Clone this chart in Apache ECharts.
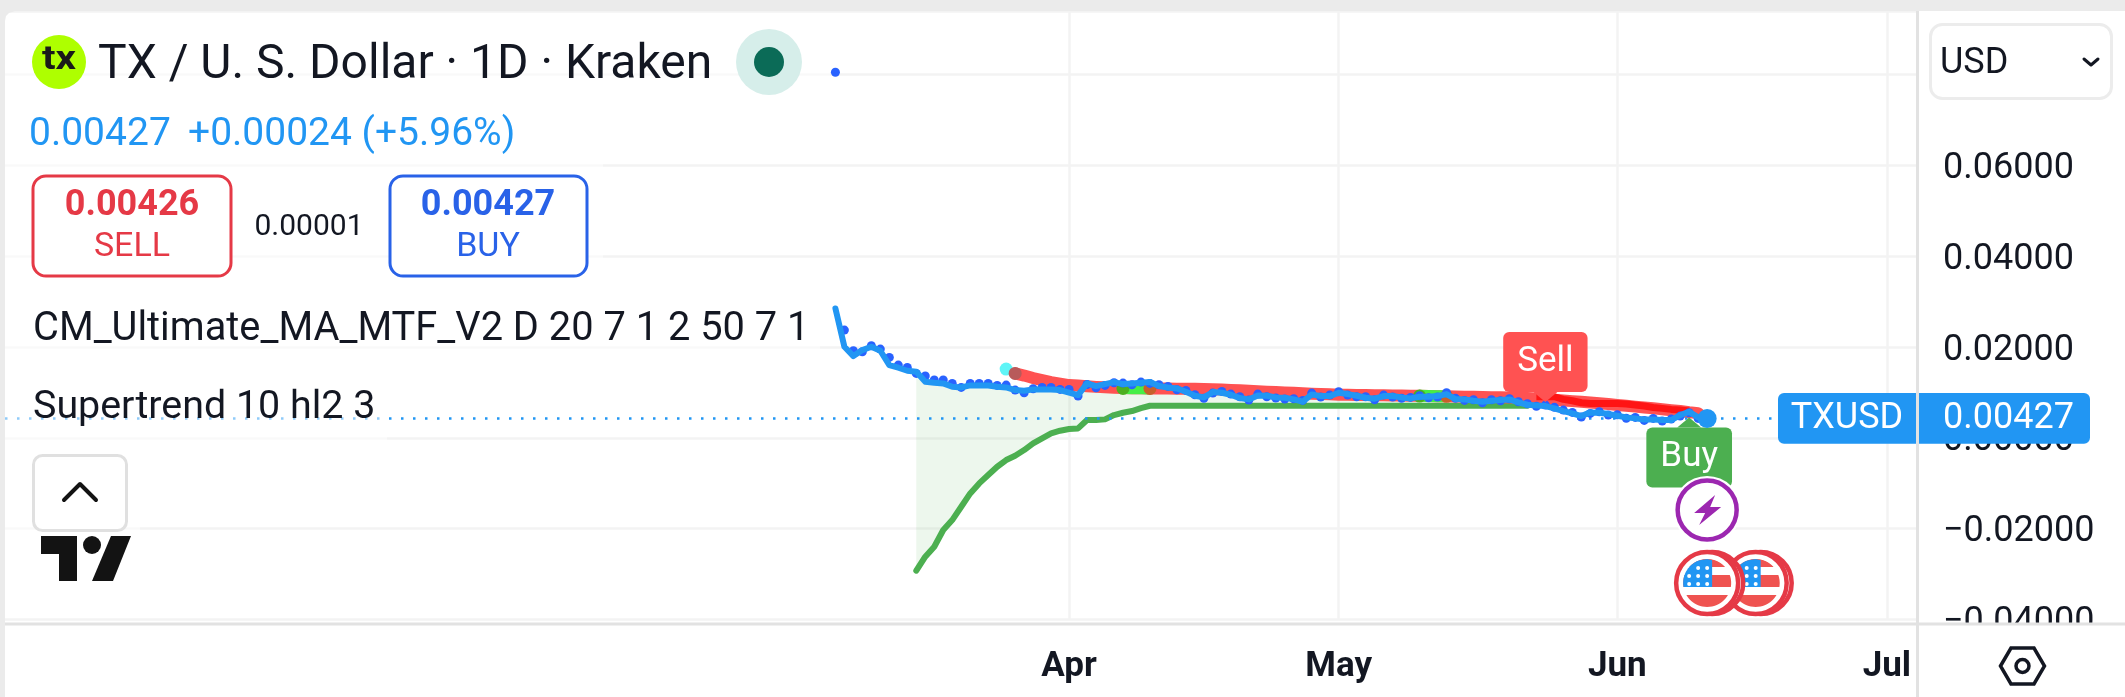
<!DOCTYPE html>
<html>
<head>
<meta charset="utf-8">
<title>TX / U. S. Dollar</title>
<style>html,body{margin:0;padding:0;background:#ebebeb}#chart{width:2125px;height:697px}</style>
<script src="https://cdn.jsdelivr.net/npm/echarts@6/dist/echarts.min.js"></script>
</head>
<body>
<div id="chart"></div>
<script>
// Daily closes starting 6 March
const closeValues = [0.0285,0.02006,0.01801,0.01933,0.02006,0.01918,0.01603,0.01544,0.01478,0.01456,0.01236,0.01214,0.01199,0.01126,0.01111,0.01155,0.01155,0.01155,0.01126,0.01111,0.01052,0.01038,0.01067,0.01067,0.01067,0.01052,0.00994,0.00942,
0.01199,0.0114,0.01184,0.01228,0.01184,0.01199,0.01214,0.01228,0.0114,0.01111,0.01089,0.01016,0.00928,0.00891,0.01008,0.00994,0.0095,0.00876,0.00847,0.00935,0.00928,0.00891,0.00884,0.00847,
0.00796,0.00957,0.0092,0.0092,0.00994,0.00964,0.00928,0.00884,0.00862,0.0092,0.0092,0.00891,0.00869,0.00906,0.00906,0.0092,0.00964,0.00854,0.00847,0.00818,0.00796,0.00818,0.00832,0.00847,0.00781,0.00729,0.00715,0.007,0.00649,0.0059,0.00539,0.0048,0.00561,0.00553,0.00524,0.00487,0.00451,0.00429,0.00406,0.00406,0.00392,0.00392,0.00502,0.00575,0.00451,0.00427];
// Secondary moving-average dots, same dates as the closes
const maDotValues = [0.0805,0.02373,0.01918,0.01896,0.02028,0.01955,0.01772,0.01603,0.01551,0.01419,0.01361,0.01273,0.01273,0.01199,0.01111,0.01199,0.01199,0.01199,0.01155,0.01162,0.01052,0.00994,0.01082,0.01111,0.01111,0.01067,0.01067,0.0092,
0.01176,0.01104,0.01155,0.01214,0.01206,0.0117,0.01228,0.01199,0.0117,0.01133,0.0106,0.01045,0.0095,0.0087,0.00986,0.01023,0.00964,0.00906,0.00833,0.00964,0.00906,0.00877,0.00855,0.00862,
0.00825,0.00986,0.00899,0.00942,0.01016,0.00942,0.00906,0.00906,0.0084,0.00942,0.00899,0.0087,0.00891,0.00928,0.00884,0.00899,0.00994,0.0087,0.00825,0.0084,0.00774,0.0084,0.00818,0.00862,0.00796,0.00752,0.00694,0.00722,0.00672,0.00612,0.00561,0.00458,0.00539,0.00575,0.00502,0.00509,0.0043,0.00451,0.00385,0.00428,0.0037,0.00414,0.0048,0.00553,0.00429,0.00427];
// Main moving average, from 26 March
const maValues = [0.0142,0.01372,0.01317,0.01273,0.01229,0.01196,0.01162,0.01151,0.01136,0.01123,0.01112,0.01103,0.01096,0.01092,0.0109,0.01088,0.01088,0.01085,0.01083,0.01081,0.01079,0.01074,0.0107,0.01063,0.01055,0.01046,0.01035,0.01026,0.01017,0.01008,0.01,0.00991,0.00982,0.00973,0.00964,0.00958,0.00951,
0.00948,0.00945,0.00943,0.0094,0.00938,0.00935,0.00932,0.00929,0.00925,0.00921,0.00918,0.00915,0.00912,0.00908,0.00905,0.00901,0.00897,0.00894,0.0089,0.00886,0.0088,0.00869,0.00855,0.0084,0.00825,0.00809,0.00793,0.00777,0.0076,0.00744,0.00725,0.00706,0.00688,0.0067,0.0065,0.0063,0.0061,0.0059,0.00565,0.00545];
// Supertrend up leg, from 15 March
const trendUpValues = [-0.02925,-0.02617,-0.02397,-0.0203,-0.0181,-0.01516,-0.01223,-0.01003,-0.00819,-0.00636,-0.00489,-0.00393,-0.00269,-0.00122,-0.00012,0.00098,0.00157,0.00194,0.00208,0.00392,0.00392,0.00407,0.00502,0.00553,0.0059,0.00656,
0.00707,0.00707,0.00707,0.00707,0.00707,0.00707,0.00707,0.00707,0.00707,0.00707,0.00707,0.00707,0.00707,0.00707,0.00707,0.00707,0.00707,0.00707,0.00707,0.00707,0.00707,0.00707,0.00707,0.00707,0.00707,0.00707,0.00707,0.00707,0.00707,0.00707,0.00707,0.00707,0.00707,0.00707,0.00707,0.00707,0.00707,0.00707,0.00707,0.00707,0.00707,0.00707,0.00707];
// Supertrend down leg, from 24 May
const trendDownValues = [0.00905,0.00905,0.00905,0.00847,0.00818,0.00774,0.00758,0.00758,0.00758,0.00758,0.00744,0.00722,0.007,0.0067,0.00649,0.00627,0.00612,0.0059];
// Ranges of the moving average where it turns green, as days after 1 April
const maGreenDays = [[6, 9], [39, 42]];
const maCrossDays = [-7, -6, 6, 9, 39, 42];
const maCrossValues = [0.01515, 0.01419, 0.01089, 0.01089, 0.0092, 0.00915];
const maCrossColors = ['#5ff5f7', '#b85a5a', '#4caf1f', '#c8602a', '#4caf1f', '#c8602a'];
const monthNames = ['Apr', 'May', 'Jun', 'Jul'];
const yTicksMin = -0.04, yTicksStep = 0.02, yTop = 0.094;
const lastPrice = 0.00427;
const priceChange = '+0.00024 (+5.96%)';
const sellPrice = '0.00426', buyPrice = '0.00427', spread = '0.00001';
const sellSignal = { day: 53, value: 0.00898 };
const buySignal = { day: 69, value: 0.00337 };
const splitsEventDay = 71;
const flagEventDays = [71, 76.4];

const DAY = 86400000;
const APR1 = Date.UTC(2025, 3, 1);
const dayMs = d => APR1 + d * DAY;
const monthStarts = [Date.UTC(2025, 3, 1), Date.UTC(2025, 4, 1), Date.UTC(2025, 5, 1), Date.UTC(2025, 6, 1)];
const closeStart = -26, maStart = -6, upStart = -17, downStart = 52;
const xMin = dayMs(-118.4), xMax = dayMs(94.35), tagStart = dayMs(79.2);
const toSeries = (vals, start) => vals.map((v, i) => [dayMs(start + i), v]);
const maSeg = ([a, b]) => maValues.slice(a - maStart, b - maStart + 1).map((v, i) => [dayMs(a + i), v]);

const FONT = 'Roboto, sans-serif';
const INK = '#131722';
const BLUE = '#2196f3';

const chart = echarts.init(document.getElementById('chart'), null, { renderer: 'canvas' });

const lineSeries = (name, data, color, width, z, extra) => Object.assign({
  name, type: 'line', data, showSymbol: false, silent: true, z,
  lineStyle: { color, width, cap: 'round', join: 'round' }
}, extra || {});

const signalLabel = (text, bg, position) => ({
  show: true, formatter: text, position, distance: 0,
  color: '#fff', fontFamily: FONT, fontSize: 35, lineHeight: 60,
  backgroundColor: bg, borderRadius: 6, padding: [0, 14]
});

chart.setOption({
  animation: false,
  backgroundColor: '#ebebeb',
  grid: { left: 5, right: 208, top: 11, bottom: 77.5, containLabel: false, show: true, backgroundColor: '#fff', borderWidth: 0 },
  xAxis: {
    // Timestamps on a plain numeric scale, so the ticks can sit on month starts
    type: 'value',
    min: xMin, max: xMax,
    axisLine: { show: false },
    axisTick: { show: false, customValues: monthStarts },
    axisLabel: {
      customValues: monthStarts, margin: 30, hideOverlap: false,
      color: INK, fontFamily: FONT, fontWeight: 'bold', fontSize: 35,
      formatter: v => monthNames[new Date(v).getUTCMonth() - 3]
    },
    splitLine: { show: true, lineStyle: { color: '#f3f3f3', width: 2.5 } }
  },
  yAxis: {
    type: 'value', position: 'right',
    min: yTicksMin, max: yTop, interval: yTicksStep,
    axisLine: { show: false }, axisTick: { show: false },
    axisLabel: {
      margin: 26, showMaxLabel: false,
      formatter: v => '{v|' + (v < 0 ? '\u2212' : '') + Math.abs(v).toFixed(5) + '}',
      rich: { v: { color: INK, fontFamily: FONT, fontSize: 36, padding: [7, 0, 0, 0] } }
    },
    splitLine: { show: true, lineStyle: { color: '#f3f3f3', width: 2.5 } }
  },
  series: [
    {
      // Shaded band between the close and the Supertrend up leg
      type: 'custom', data: [[dayMs(upStart), 0]], silent: true, z: 1, clip: true,
      renderItem: (params, api) => {
        const lower = trendUpValues.map((v, i) => api.coord([dayMs(upStart + i), v]));
        const upper = trendUpValues.map((v, i) => api.coord([dayMs(upStart + i), closeValues[upStart + i - closeStart]]));
        return { type: 'polygon', shape: { points: lower.concat(upper.reverse()) }, style: { fill: 'rgba(76,175,80,0.1)' } };
      }
    },
    lineSeries('Supertrend up', toSeries(trendUpValues, upStart), '#4caf50', 6, 2),
    lineSeries('MA', toSeries(maValues, maStart), '#ff5252', 12, 3),
    lineSeries('MA rising a', maSeg(maGreenDays[0]), '#46ee46', 12, 3),
    lineSeries('MA rising b', maSeg(maGreenDays[1]), '#46ee46', 12, 3),
    lineSeries('Supertrend down', toSeries(trendDownValues, downStart), '#ff1414', 7, 4, { lineStyle: { color: '#ff1414', width: 7, cap: 'butt', join: 'round' } }),
    {
      name: 'MA cross', type: 'scatter', silent: true, z: 4, symbolSize: 13,
      data: maCrossDays.map((d, i) => ({ value: [dayMs(d), maCrossValues[i]], itemStyle: { color: maCrossColors[i], opacity: 1 } }))
    },
    {
      name: 'MA dots', type: 'scatter', silent: true, z: 5, symbolSize: 9,
      itemStyle: { color: '#2962ff', opacity: 1 },
      data: toSeries(maDotValues, closeStart)
    },
    lineSeries('Close', toSeries(closeValues, closeStart), BLUE, 6, 6, {
      markLine: {
        silent: true, symbol: 'none', animation: false,
        label: { show: false },
        lineStyle: { color: BLUE, width: 2.5, type: [2.5, 9.5], opacity: 1 },
        data: [[{ coord: [xMin, lastPrice] }, { coord: [tagStart, lastPrice] }]]
      }
    }),
    {
      name: 'Last', type: 'scatter', silent: true, z: 7, symbolSize: 19,
      itemStyle: { color: BLUE, opacity: 1 },
      data: [[dayMs(closeStart + closeValues.length - 1), lastPrice]]
    },
    {
      name: 'Sell', type: 'scatter', silent: true, z: 8, symbol: 'triangle', symbolRotate: 180, symbolSize: [24, 10],
      itemStyle: { color: '#ff5252', opacity: 1 },
      label: signalLabel('Sell', '#ff5252', 'top'),
      data: [[dayMs(sellSignal.day), sellSignal.value]]
    },
    {
      name: 'Buy', type: 'scatter', silent: true, z: 5, symbol: 'triangle', symbolSize: [24, 10],
      itemStyle: { color: '#4caf50', opacity: 1 },
      label: signalLabel('Buy', '#4caf50', 'bottom'),
      data: [[dayMs(buySignal.day), buySignal.value]]
    }
  ]
});

// Helpers for the surrounding chart furniture
const Z = 50;
const text = (t, x, y, font, fill, align, z, extra) => Object.assign({
  type: 'text', x, y, z: z || Z + 2,
  style: { text: t, font, fill, textAlign: align || 'left', textVerticalAlign: 'middle' }
}, extra || {});
const rect = (x, y, width, height, fill, r, z, stroke, lw) => ({
  type: 'rect', z: z === undefined ? Z : z,
  shape: { x, y, width, height, r: r || 0 },
  style: { fill, stroke: stroke || null, lineWidth: lw || 0 }
});
const circle = (cx, cy, r, fill, stroke, lw, z) => ({
  type: 'circle', z: z || Z + 1,
  shape: { cx, cy, r },
  style: { fill, stroke: stroke || null, lineWidth: lw || 0 }
});
const poly = (points, fill, z) => ({ type: 'polygon', z: z || Z + 1, shape: { points }, style: { fill } });
const stroke = (points, color, lw, z) => ({
  type: 'polyline', z: z || Z + 1, shape: { points },
  style: { stroke: color, lineWidth: lw, fill: null, lineCap: 'round', lineJoin: 'round' }
});

// Part of a disc lying within a rectangle, as a polygon
function discPart(cx, cy, r, x1, y1, x2, y2) {
  const left = [], right = [];
  const top = Math.max(y1, cy - r), bot = Math.min(y2, cy + r);
  for (let i = 0; i <= 24; i++) {
    const y = top + (bot - top) * i / 24;
    const h = Math.sqrt(Math.max(0, r * r - (y - cy) * (y - cy)));
    left.push([Math.max(x1, cx - h), y]);
    right.push([Math.min(x2, cx + h), y]);
  }
  return left.concat(right.reverse());
}

function flagIcon(cx, cy, z) {
  const r = 24, out = [];
  out.push(circle(cx + 5, cy, 31, '#fff', '#e53946', 4.5, z));
  out.push(circle(cx, cy, 31, '#fff', '#e53946', 4.5, z + 1));
  out.push(poly(discPart(cx, cy, r, cx - r, cy - r, cx + r, cy - 16), '#ef5350', z + 2));
  out.push(poly(discPart(cx, cy, r, cx - r, cy - 8, cx + r, cy + 4), '#ef5350', z + 2));
  out.push(poly(discPart(cx, cy, r, cx - r, cy + 12, cx + r, cy + r), '#ef5350', z + 2));
  out.push(poly(discPart(cx, cy, r, cx - r, cy - r, cx + 5, cy + 4), BLUE, z + 3));
  [-14, -6, 2].forEach((dy, row) => [-19, -10, -1].forEach(dx => {
    if (row === 0 && dx === -19) return;
    out.push({ type: 'circle', z: z + 4, shape: { cx: cx + dx + 1, cy: cy + dy - 1, r: 2 }, style: { fill: '#fff' } });
  }));
  return out;
}

function build() {
  const tagY = chart.convertToPixel({ yAxisIndex: 0 }, lastPrice);
  const evX = d => chart.convertToPixel({ xAxisIndex: 0 }, dayMs(d));
  const sx = evX(splitsEventDay);
  const fade = 'rgba(255,255,255,0.5)';
  const els = [
    // White ground of the right-hand scale and the date strip
    rect(1917, 11, 208, 612, '#ffffff', 0, -1),
    rect(5, 620, 2120, 77, '#ffffff', 0, -1),

    // Soft panel behind each legend row
    rect(5, 30, 825, 85, fade, 0, 40),
    rect(5, 160, 598, 135, fade, 0, 40),
    rect(5, 300, 815, 65, fade, 0, 40),
    rect(5, 378, 382, 62, fade, 0, 40),
    rect(5, 445, 135, 95, fade, 0, 40),

    // Frame: top and left bands, scale clip, dividers
    rect(0, 0, 2125, 11, '#ebebeb', 0, 60),
    rect(0, 0, 5, 697, '#ebebeb', 0, 60),
    poly([[5, 11], [15, 11], [9, 13], [6, 16], [5, 21]], '#ebebeb', 61),
    rect(1919, 624, 206, 73, '#ffffff', 0, 60),
    rect(5, 622.5, 2120, 3, '#e2e2e2', 0, 61),
    rect(1916, 11, 3, 686, '#e2e2e2', 0, 61),

    // Symbol heading
    circle(59, 62, 27, '#aeff00'),
    text('tx', 59, 61, 'bold 33px ' + FONT, '#1a1a1a', 'center', Z + 2, { scaleX: 1.22 }),
    text('TX / U. S. Dollar \u00b7 1D \u00b7 Kraken', 98, 66, '48px ' + FONT, INK),
    circle(769, 62, 33, '#d6eeea'),
    circle(769, 62, 15, '#0b6b57'),
    text('0.00427', 29, 135, '39px ' + FONT, BLUE),
    text(priceChange, 188, 135, '39px ' + FONT, BLUE),

    // Sell and buy buttons
    rect(33, 176, 198, 100, '#fff', 13, Z, '#e53946', 3),
    text(sellPrice, 132, 206, 'bold 36px ' + FONT, '#e53946', 'center'),
    text('SELL', 132, 247, '34px ' + FONT, '#e53946', 'center'),
    text(spread, 309, 227, '30px ' + FONT, INK, 'center'),
    rect(390, 176, 197, 100, '#fff', 13, Z, '#2962e8', 3),
    text(buyPrice, 488, 206, 'bold 36px ' + FONT, '#2962e8', 'center'),
    text('BUY', 488, 247, '34px ' + FONT, '#2962e8', 'center'),

    // Indicator legend
    text('CM_Ultimate_MA_MTF_V2 D 20 7 1 2 50 7 1', 33, 330, '39.8px ' + FONT, INK),
    text('Supertrend 10 hl2 3', 33, 408, '39.4px ' + FONT, INK),

    // Collapse button
    rect(33.5, 455.5, 93, 75, '#fff', 9, Z, '#e0e0e0', 3),
    stroke([[64, 500], [80, 484], [96, 500]], '#131313', 4),

    // Logo
    poly([[41, 536], [77, 536], [77, 581], [59, 581], [59, 554], [41, 554]], '#131313'),
    circle(92, 545, 9, '#131313'),
    poly([[111, 536], [131, 536], [113, 581], [92, 581]], '#131313'),

    // Currency selector
    rect(1930.5, 24.5, 181, 74, '#fff', 12, Z, '#ececec', 3),
    text('USD', 1940, 64, '36px ' + FONT, INK),
    stroke([[2084, 59], [2091, 65], [2098, 59]], INK, 3),

    // Settings hexagon
    { type: 'polygon', z: 62, shape: { points: [[2000.5, 666], [2011, 648], [2034, 648], [2044.5, 666], [2034, 684], [2011, 684]] }, style: { fill: '#fff', stroke: INK, lineWidth: 3.5 } },
    circle(2022.5, 666, 6.5, '#fff', INK, 3.5, 63),

    // Last price tag
    rect(1778, tagY - 25.4, 312, 50.8, BLUE, 6, Z + 1),
    rect(1916, tagY - 25.4, 3, 50.8, '#e2e2e2', 0, 62),
    text('TXUSD', 1847, tagY + 1, '36px ' + FONT, '#fff', 'center', Z + 3),
    text(lastPrice.toFixed(5), 1943, tagY + 1, '36px ' + FONT, '#fff', 'left', Z + 3),

    // Event icons
    circle(sx, 510, 34, '#fff', null, 0, 30),
    circle(sx, 510, 29.5, '#fff', '#9c27b0', 4.5, 31),
    poly([[sx + 8, 495], [sx - 13, 513], [sx - 2, 513], [sx - 8, 525], [sx + 14, 507], [sx + 3, 507]], '#9c27b0', 32)
  ];
  const flags = flagIcon(evX(flagEventDays[1]), 583, 33).concat(flagIcon(evX(flagEventDays[0]), 583, 39));
  chart.setOption({ graphic: { elements: els.concat(flags) } });
}
build();
</script>
</body>
</html>
